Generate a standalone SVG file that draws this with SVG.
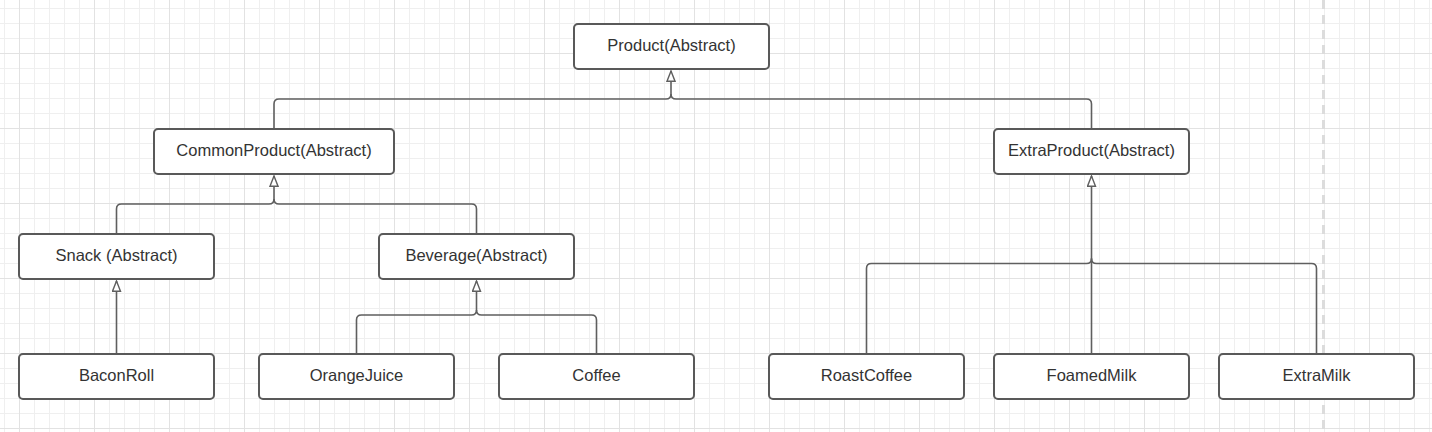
<svg xmlns="http://www.w3.org/2000/svg" width="1432" height="432" viewBox="0 0 1432 432">
<style>
.node rect{fill:#fff;stroke:#595959;stroke-width:2}
.node text{font-family:"Liberation Sans",Arial,sans-serif;font-size:16.5px;fill:#333;text-anchor:middle}
.conn path{fill:none;stroke:#5f5f5f;stroke-width:1.6}
</style>
<defs>
<pattern id="gmin" patternUnits="userSpaceOnUse" x="4" y="8" width="15" height="15">
<rect x="0" y="0" width="1" height="15" fill="#efefef"/>
<rect x="0" y="0" width="15" height="1" fill="#efefef"/>
</pattern>
<pattern id="gmaj" patternUnits="userSpaceOnUse" x="19" y="53" width="75" height="75">
<rect x="0" y="0" width="1" height="75" fill="#e2e2e2"/>
<rect x="0" y="0" width="75" height="1" fill="#e2e2e2"/>
</pattern>
<marker id="tri" markerUnits="userSpaceOnUse" markerWidth="12" markerHeight="10" viewBox="0 0 12 10" refX="11" refY="5" orient="auto">
<path d="M0.8,1 L11,5 L0.8,9 Z" fill="#fff" stroke="#5f5f5f" stroke-width="1.4"/>
</marker>
</defs>
<rect width="1432" height="432" fill="#fff"/>
<rect width="1432" height="432" fill="url(#gmin)"/>
<rect width="1432" height="432" fill="url(#gmaj)"/>
<line x1="1323.5" y1="0" x2="1323.5" y2="432" stroke="#dcdcdc" stroke-width="3" stroke-dasharray="9,6"/>
<g id="connectors" class="conn">
<path d="M274,129 V104 Q274,99 279,99 H666 Q671,99 671,94"/>
<path d="M1091.5,129 V104 Q1091.5,99 1086.5,99 H676 Q671,99 671,94"/>
<path d="M671,94 V71" marker-end="url(#tri)"/>
<path d="M116.5,234 V209 Q116.5,204 121.5,204 H269 Q274,204 274,199"/>
<path d="M476.5,234 V209 Q476.5,204 471.5,204 H279 Q274,204 274,199"/>
<path d="M274,199 V176" marker-end="url(#tri)"/>
<path d="M116.5,354 V281" marker-end="url(#tri)"/>
<path d="M356.5,354 V320 Q356.5,315 361.5,315 H471.5 Q476.5,315 476.5,310"/>
<path d="M596.5,354 V320 Q596.5,315 591.5,315 H481.5 Q476.5,315 476.5,310"/>
<path d="M476.5,310 V281" marker-end="url(#tri)"/>
<path d="M866.5,354 V268.5 Q866.5,263.5 871.5,263.5 H1086.5 Q1091.5,263.5 1091.5,258.5"/>
<path d="M1316.5,354 V268.5 Q1316.5,263.5 1311.5,263.5 H1096.5 Q1091.5,263.5 1091.5,258.5"/>
<path d="M1091.5,354 V176" marker-end="url(#tri)"/>
</g>
<g id="product" class="node"><rect x="574" y="24" width="195" height="45" rx="4"/><text x="671.5" y="51">Product(Abstract)</text></g>
<g id="commonproduct" class="node"><rect x="154" y="129" width="240" height="45" rx="4"/><text x="274" y="156">CommonProduct(Abstract)</text></g>
<g id="extraproduct" class="node"><rect x="994" y="129" width="195" height="45" rx="4"/><text x="1091.5" y="156">ExtraProduct(Abstract)</text></g>
<g id="snack" class="node"><rect x="19" y="234" width="195" height="45" rx="4"/><text x="116.5" y="261">Snack (Abstract)</text></g>
<g id="beverage" class="node"><rect x="379" y="234" width="195" height="45" rx="4"/><text x="476.5" y="261">Beverage(Abstract)</text></g>
<g id="baconroll" class="node"><rect x="19" y="354" width="195" height="45" rx="4"/><text x="116.5" y="381">BaconRoll</text></g>
<g id="orangejuice" class="node"><rect x="259" y="354" width="195" height="45" rx="4"/><text x="356.5" y="381">OrangeJuice</text></g>
<g id="coffee" class="node"><rect x="499" y="354" width="195" height="45" rx="4"/><text x="596.5" y="381">Coffee</text></g>
<g id="roastcoffee" class="node"><rect x="769" y="354" width="195" height="45" rx="4"/><text x="866.5" y="381">RoastCoffee</text></g>
<g id="foamedmilk" class="node"><rect x="994" y="354" width="195" height="45" rx="4"/><text x="1091.5" y="381">FoamedMilk</text></g>
<g id="extramilk" class="node"><rect x="1219" y="354" width="195" height="45" rx="4"/><text x="1316.5" y="381">ExtraMilk</text></g>
</svg>
